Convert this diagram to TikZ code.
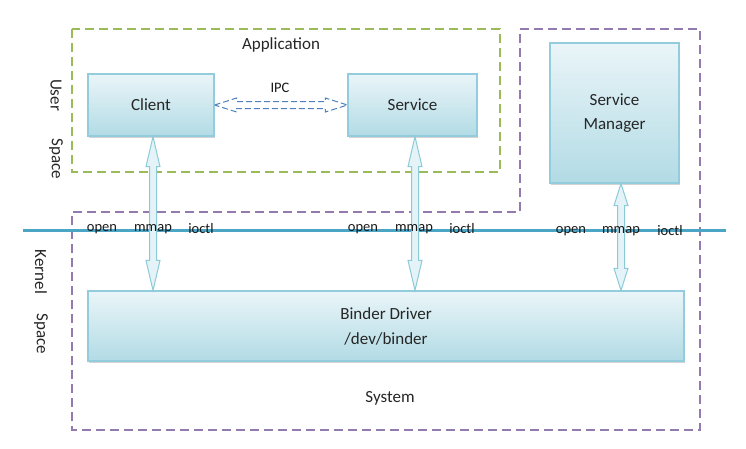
\documentclass[tikz,border=0pt]{standalone}
\usepackage{fontspec}
\setmainfont{Carlito}
\usetikzlibrary{calc,shadows}
\definecolor{boxline}{HTML}{93CDDD}
\definecolor{boxtop}{HTML}{EAF5F8}
\definecolor{boxbot}{HTML}{B2DBE5}
\definecolor{appgreen}{HTML}{9BBB59}
\definecolor{syspurple}{HTML}{8064A2}
\definecolor{kline}{HTML}{4BA6C6}
\definecolor{ipcblue}{HTML}{4F81BD}
\definecolor{arrline}{HTML}{8CCAD8}
\definecolor{arrfill}{HTML}{E4F3F7}
\newcommand\vdarrow[4]{%
  \draw[dblarr] let \p1=(#2), \p2=(#3) in
    (#1pt,\y1) -- (#1pt+7pt,\y1-#4pt) -- (#1pt+3.5pt,\y1-#4pt)
    -- (#1pt+3.5pt,\y2+#4pt) -- (#1pt+7pt,\y2+#4pt) -- (#1pt,\y2)
    -- (#1pt-7pt,\y2+#4pt) -- (#1pt-3.5pt,\y2+#4pt)
    -- (#1pt-3.5pt,\y1-#4pt) -- (#1pt-7pt,\y1-#4pt) -- cycle;}
\begin{document}
\begin{tikzpicture}[x=1pt,y=-1pt,
  every node/.style={font=\fontsize{17}{20}\selectfont, text=black!85},
  bluebox/.style={draw=boxline, line width=1.2pt, top color=boxtop, bottom color=boxbot,
    inner sep=0pt, align=center,
    drop shadow={shadow xshift=1.2pt, shadow yshift=-1.5pt, opacity=0.35, fill=gray}},
  small/.style={font=\fontsize{14.5}{16}\selectfont, text=black!90},
  dblarr/.style={draw=arrline, line width=1pt, fill=arrfill},
  appbox/.style={draw=appgreen, line width=1.2pt, dash pattern=on 9pt off 5pt},
  sysbox/.style={draw=syspurple!85, line width=1.2pt, dash pattern=on 9pt off 5pt},
  ipcarr/.style={draw=ipcblue, line width=1pt, dash pattern=on 6pt off 3pt},
  kernline/.style={draw=kline, line width=3pt}]
\useasboundingbox (0,0) rectangle (746,448);
% dashed frames
\draw[appbox] (72,29) rectangle (500,172);
\draw[sysbox] (520,29) -- (700,29) -- (700,430) -- (72,430) -- (72,212) -- (520,212) -- cycle;
% user/kernel boundary
\coordinate (kl) at (23,230);
\coordinate (kr) at (726,230);
\draw[kernline] (kl) -- (kr);
% boxes
\node[bluebox, minimum width=126pt, minimum height=62pt] (client) at (151,105) {Client};
\node[bluebox, minimum width=129pt, minimum height=62pt] (service) at (412.5,105) {Service};
\node[bluebox, minimum width=129pt, minimum height=140pt] (sm) at (614.5,113) {Service\\[4pt]Manager};
\node[bluebox, minimum width=596pt, minimum height=70pt] (binder) at (386,326) {Binder Driver\\[5pt]/dev/binder};
% IPC dashed double arrow
\draw[ipcarr] let \p1=(client.east), \p2=(service.west) in
  (\x1,\y1) -- (\x1+22pt,\y1+7pt) -- (\x1+22pt,\y1+3.5pt) -- (\x2-22pt,\y1+3.5pt)
  -- (\x2-22pt,\y1+7pt) -- (\x2,\y1) -- (\x2-22pt,\y1-7pt) -- (\x2-22pt,\y1-3.5pt)
  -- (\x1+22pt,\y1-3.5pt) -- (\x1+22pt,\y1-7pt) -- cycle;
% vertical double arrows
\vdarrow{153}{client.south}{binder.north}{30}
\vdarrow{415}{service.south}{binder.north}{30}
\vdarrow{621}{sm.south}{binder.north}{22}
% texts
\node (app) at (281,45) {Application};
\node (sys) at (390,398) {System};
\node[rotate=-90] (user) at (56,95) {User};
\node[rotate=-90] (uspace) at (56,159) {Space};
\node[rotate=-90] (kern) at (41,272) {Kernel};
\node[rotate=-90] (kspace) at (41,334) {Space};
\node[small] (ipc) at (280,88) {IPC};
\node[small] (o1) at (102,229) {open};
\node[small] (m1) at (153,229) {mmap};
\node[small] (i1) at (201,229) {ioctl};
\node[small] (o2) at (363,229) {open};
\node[small] (m2) at (414,229) {mmap};
\node[small] (i2) at (462,229) {ioctl};
\node[small] (o3) at (571,231) {open};
\node[small] (m3) at (621,231) {mmap};
\node[small] (i3) at (670,231) {ioctl};
\end{tikzpicture}
\end{document}
